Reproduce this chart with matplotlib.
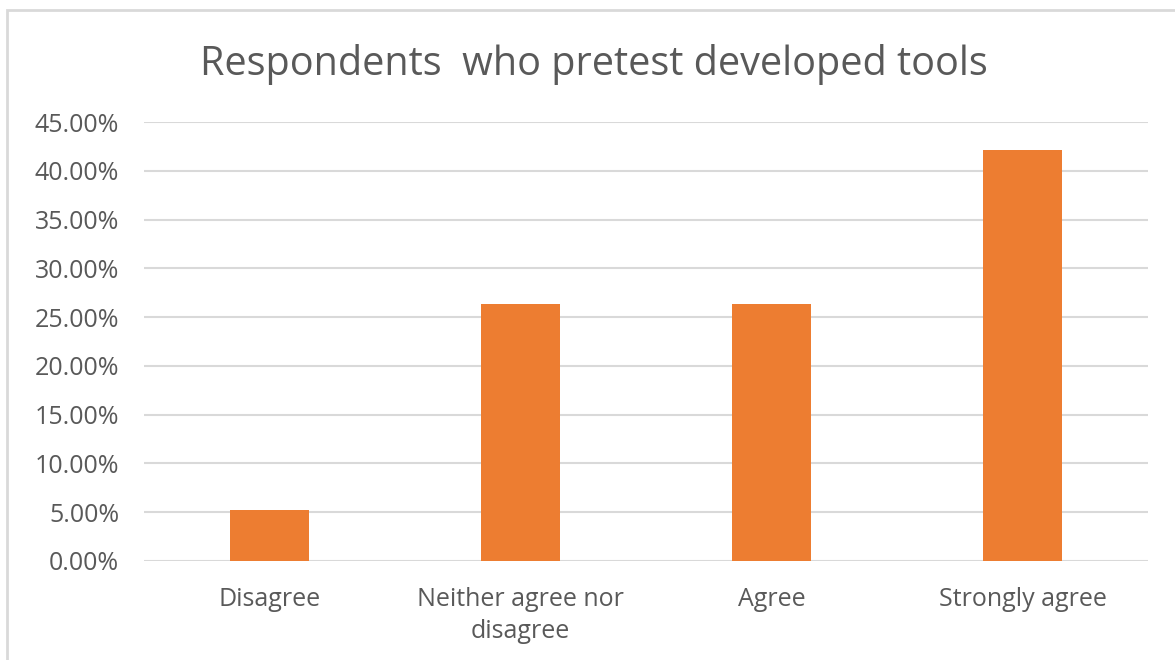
import numpy as np
import matplotlib.pyplot as plt
from matplotlib.ticker import PercentFormatter
from matplotlib.patches import Rectangle

categories = ["Disagree", "Neither agree nor\ndisagree", "Agree", "Strongly agree"]
values = [5.26, 26.32, 26.32, 42.11]
yticks = [0, 5, 10, 15, 20, 25, 30, 35, 40, 45]

plt.rcParams['font.family'] = ['Open Sans', 'DejaVu Sans']
txt = '#595959'

fig = plt.figure(figsize=(11.75, 6.6), dpi=100)
ax = fig.add_axes([0.1226, 0.15, 0.8545, 0.665])

x = np.arange(len(categories))
ax.bar(x, values, width=0.315, color='#ED7D31', zorder=3)

ax.set_xlim(-0.5, len(categories) - 0.5)
ax.set_ylim(0, 45)
ax.set_yticks(yticks)
ax.yaxis.set_major_formatter(PercentFormatter(decimals=2))
ax.set_xticks(x)
ax.set_xticklabels(categories, linespacing=1.35)
ax.grid(axis='y', color='#D9D9D9', linewidth=1.5, zorder=0)
for s in ax.spines.values():
    s.set_visible(False)
ax.tick_params(axis='both', length=0, colors=txt, labelsize=18)
ax.tick_params(axis='y', pad=18)
ax.tick_params(axis='x', pad=19)

fig.text(0.505, 0.903, "Respondents  who pretest developed tools", ha='center', va='center',
         fontsize=28.5, color=txt)

# chart border
fig.patches.append(Rectangle((7 / 1175, -0.01), 1.02, 1 - 10 / 660 + 0.01, transform=fig.transFigure,
                             fill=False, edgecolor='#D9D9D9', linewidth=2))

fig.savefig('out.png', dpi=100)
